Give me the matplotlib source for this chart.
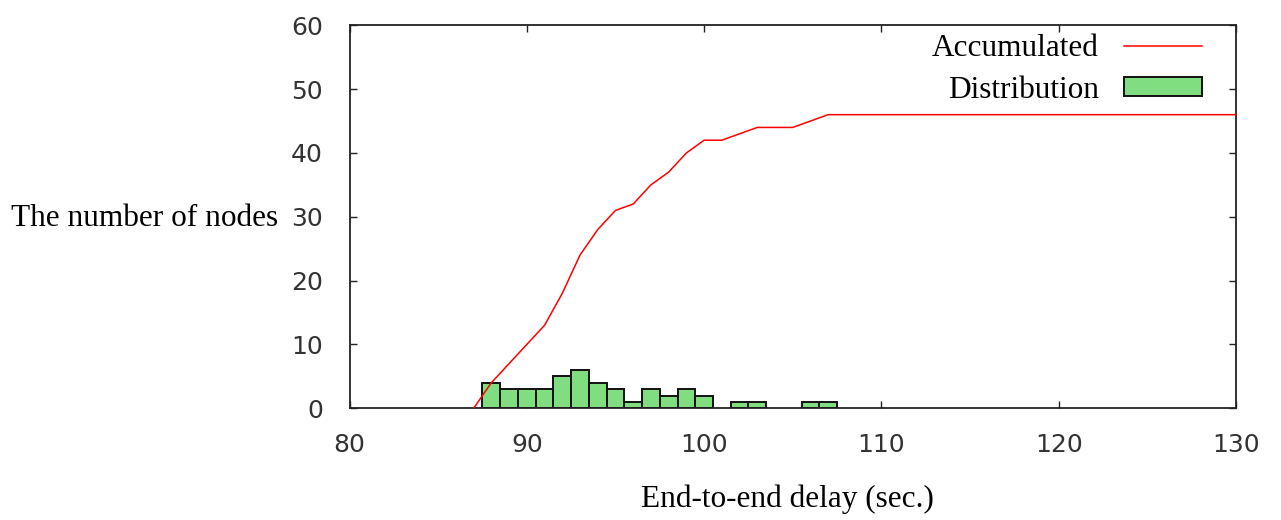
import matplotlib
matplotlib.use("Agg")
import matplotlib.pyplot as plt
from matplotlib.lines import Line2D
from matplotlib.patches import Patch

# Histogram of end-to-end delays (bin centre in seconds, node count)
bin_delay = [88, 89, 90, 91, 92, 93, 94, 95, 96, 97, 98, 99, 100, 102, 103, 106, 107]
bin_count = [4, 3, 3, 3, 5, 6, 4, 3, 1, 3, 2, 3, 2, 1, 1, 1, 1]

# Accumulated number of nodes reached by a given delay
acc_delay = [87, 88, 89, 90, 91, 92, 93, 94, 95, 96, 97, 98, 99, 100,
             101, 102, 103, 104, 105, 106, 107, 130]
acc_count = [0, 4, 7, 10, 13, 18, 24, 28, 31, 32, 35, 37, 40, 42,
             42, 43, 44, 44, 44, 45, 46, 46]

x_ticks = [80, 90, 100, 110, 120, 130]
y_ticks = [0, 10, 20, 30, 40, 50, 60]

W, H = 1281, 520
fig = plt.figure(figsize=(W / 100, H / 100), dpi=100)
ax = fig.add_axes([349.5 / W, 1 - 408.3 / H, (1236 - 349.5) / W, (408.3 - 25.3) / H])

serif = "Liberation Serif"
serif_size = 22.5
tick_font = {"family": "DejaVu Sans", "size": 18}

bar_color = "#80dd80"
ax.bar(bin_delay, bin_count, width=1.0, color=bar_color, edgecolor="#111111",
       linewidth=1.4, zorder=2)
ax.plot(acc_delay, acc_count, color="#ff0000", linewidth=1.1, zorder=3)

ax.set_xlim(80, 130)
ax.set_ylim(0, 60)
ax.set_xticks(x_ticks)
ax.set_yticks(y_ticks)
ax.set_xticklabels([str(v) for v in x_ticks], fontdict=tick_font, color="#333333")
ax.set_yticklabels([str(v) for v in y_ticks], fontdict=tick_font, color="#333333")
ax.tick_params(axis="both", direction="in", length=5, width=1.0,
               top=True, right=True, color="#222222")
ax.tick_params(axis="y", pad=19)
ax.tick_params(axis="x", pad=18)
for s in ax.spines.values():
    s.set_linewidth(1.3)
    s.set_color("#222222")

ax.set_xlabel("End-to-end delay (sec.)", family=serif, fontsize=serif_size)
ax.xaxis.set_label_coords((787 - 349.5) / 886.5, (408.3 - 484) / 383)
ax.text(-0.081, (408.3 - 218) / 383, "The number of nodes", transform=ax.transAxes,
        ha="right", va="center", family=serif, fontsize=serif_size)

handles = [Line2D([], [], color="#ff0000", linewidth=1.1),
           Patch(facecolor=bar_color, edgecolor="#111111", linewidth=1.4)]
leg = ax.legend(handles, ["Accumulated", "Distribution"], loc="upper right",
                bbox_to_anchor=((1202 - 349.5) / 886.5, (408.3 - 34) / 383),
                markerfirst=False, frameon=False, borderpad=0, borderaxespad=0,
                handlelength=2.5, handleheight=0.52, handletextpad=0.8,
                labelspacing=0.4, prop={"family": serif, "size": serif_size})

fig.savefig("out.png", dpi=100, facecolor="white")
